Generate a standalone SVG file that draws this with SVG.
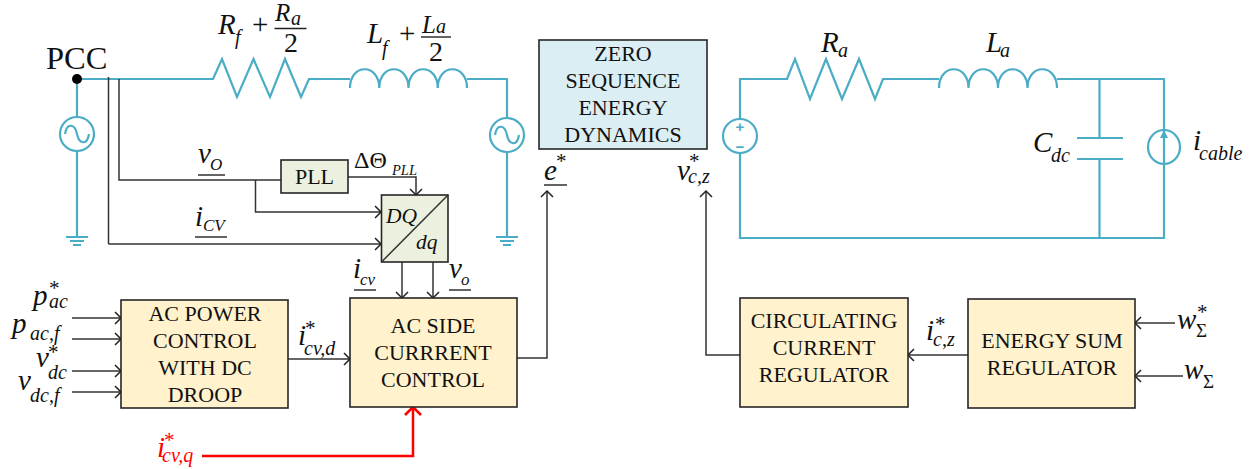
<svg xmlns="http://www.w3.org/2000/svg" width="1256" height="469" viewBox="0 0 1256 469">
<style>
text{font-family:"Liberation Serif","Times New Roman",serif;fill:#111}
.box{stroke:#262626;stroke-width:1.6}
.y{fill:#fff2cc}.g{fill:#ebf1de}.b{fill:#dbeef4}
.t{font-size:22px;text-anchor:middle}
.m{font-style:italic;font-size:29px}
.n{font-style:italic;font-size:25px}
.s{font-style:italic;font-size:20px}
.o{font-style:italic;font-size:17px}
.a{font-size:21px}
.w{fill:none;stroke:#4bacc6;stroke-width:2.2}
.c{fill:none;stroke:#333;stroke-width:1.5}
.ar{marker-end:url(#h)}
.u{stroke:#222;stroke-width:1.4}
.red{fill:#f00}
.pm{fill:#4bacc6;font-size:15px;font-weight:bold;text-anchor:middle;font-family:"Liberation Sans",Arial,sans-serif}
</style>
<defs>
<marker id="h" markerUnits="userSpaceOnUse" markerWidth="12" markerHeight="14" refX="10" refY="7" orient="auto"><path d="M4,1 L10,7 L4,13" fill="none" stroke="#222" stroke-width="1.5"/></marker>
<marker id="hr" markerUnits="userSpaceOnUse" markerWidth="18" markerHeight="20" refX="14" refY="10" orient="auto"><path d="M6,2 L14,10 L6,18" fill="none" stroke="#f00" stroke-width="2.6"/></marker>
</defs>

<g id="connectors">
<g id="power-ac">
<path class="w" d="M77,79 H213 L222,59 L237,97 L253.500,59 L270,97 L285,59 L301,97 L309,79 H350"/>
<path class="w" d="M350,88 C350,63 379.250,63 379.250,88 C379.250,63 408.500,63 408.500,88 C408.500,63 437.750,63 437.750,88 C437.750,63 467,63 467,88 M467,79 H507 V118"/>
<path class="w" d="M77,79 V117 M77,151 V237 M507,152 V237"/>
<path class="w" d="M66,237 H88 M70,241 H84 M73,245 H81 M496,237 H518 M500,241 H514 M503,245 H511"/>
</g>
<g id="power-dc">
<path class="w" d="M740,119 V79 H787 L795,59 L810,99 L826,59 L842,99 L859,59 L875,99 L883,79 H939"/>
<path class="w" d="M939,88 C939,63 968.500,63 968.500,88 C968.500,63 998,63 998,88 C998,63 1027.500,63 1027.500,88 C1027.500,63 1057,63 1057,88 M1057,79 H1164 V238 H740 V153"/>
<path class="w" d="M1099.500,79 V138 M1099.500,159 V238"/>
<path class="w" d="M1077,138 H1123 M1077,159 H1123"/>
</g>
<path class="c" d="M108.500,77 V244"/>
<path class="c ar" d="M108.500,244 H381"/>
<path class="c" d="M119,79 V180 H281"/>
<path class="c ar" d="M255.500,180 V212 H381"/>
<path class="c ar" d="M348,177 H416 V195"/>
<path class="c ar" d="M402,262 V298"/>
<path class="c ar" d="M433,262 V298"/>
<path class="c ar" d="M72,318 H121"/>
<path class="c ar" d="M72,339 H121"/>
<path class="c ar" d="M72,371 H121"/>
<path class="c ar" d="M72,392 H121"/>
<path class="c ar" d="M288,359 H350"/>
<path class="c ar" d="M517,358 H547 V191"/>
<path class="c ar" d="M740,355 H706 V191"/>
<path class="c ar" d="M968,355 H908"/>
<path class="c ar" d="M1175,323 H1135"/>
<path class="c ar" d="M1183,376 H1135"/>
<path d="M202,456 H413 V407" fill="none" stroke="#f00" stroke-width="2.500" marker-end="url(#hr)"/>
</g>

<g id="pcc">
<circle cx="77" cy="79" r="5" fill="#000"/>
<text x="46" y="69" font-size="32.500">PCC</text>
</g>
<g id="source-left">
<circle class="w" cx="77" cy="134" r="17"/>
<path class="w" d="M65,134 C67,122 75,124 77,134 C79,144 87,146 89,134"/>
</g>
<g id="source-right">
<circle class="w" cx="507" cy="135" r="17"/>
<path class="w" d="M495,135 C497,123 505,125 507,135 C509,145 517,147 519,135"/>
</g>
<g id="label-rf">
<text class="m" x="218" y="34">R</text><text class="s" x="235" y="44">f</text>
<text x="252" y="34" font-size="29">+</text>
<text class="n" x="275" y="21">R</text><text class="s" x="291" y="25">a</text>
<path class="u" d="M274.500,28.500 H306.500"/>
<text x="291" y="52" font-size="28" text-anchor="middle">2</text>
</g>
<g id="label-lf">
<text class="m" x="367" y="43">L</text><text class="s" x="382" y="55">f</text>
<text x="399" y="43" font-size="29">+</text>
<text class="n" x="422" y="33">L</text><text class="s" x="436" y="33">a</text>
<path class="u" d="M421,37 H451"/>
<text x="436" y="61" font-size="28" text-anchor="middle">2</text>
</g>

<g id="pll">
<rect class="box g" x="281" y="160" width="67" height="33"/>
<text class="t" x="314.500" y="184">PLL</text>
</g>
<g id="dq">
<rect class="box g" x="381.500" y="195" width="66.500" height="67"/>
<path class="c" d="M381.500,262 L448,195"/>
<text x="386" y="222.500" font-size="21.500" font-style="italic">DQ</text>
<text x="416" y="249" font-size="21.500" font-style="italic">dq</text>
</g>
<g id="label-vo1"><text class="m" x="198" y="163">v</text><text class="o" x="210" y="170">O</text><path class="u" d="M198,175 H225"/></g>
<g id="label-icv1"><text class="m" x="195" y="226">i</text><text class="o" x="203" y="231">CV</text><path class="u" d="M195,237 H227"/></g>
<g id="label-theta"><text x="354" y="168" font-size="24">ΔΘ</text><text x="392" y="175" font-size="14.500" font-style="italic">PLL</text></g>
<g id="label-icv2"><text class="m" x="353" y="278">i</text><text class="o" x="360" y="285">cv</text><path class="u" d="M354,290 H376"/></g>
<g id="label-vo2"><text class="m" x="449" y="278">v</text><text class="o" x="461" y="285">o</text><path class="u" d="M449,290 H471"/></g>

<g id="ac-power">
<rect class="box y" x="121" y="300" width="167" height="108"/>
<text class="t" x="205" y="321">AC POWER</text>
<text class="t" x="205" y="348">CONTROL</text>
<text class="t" x="205" y="375">WITH DC</text>
<text class="t" x="205" y="402">DROOP</text>
</g>
<g id="ac-side">
<rect class="box y" x="350" y="298" width="167" height="109"/>
<text class="t" x="433" y="333">AC SIDE</text>
<text class="t" x="433" y="360">CURRRENT</text>
<text class="t" x="433" y="387">CONTROL</text>
</g>
<g id="zero">
<rect class="box b" x="539" y="40" width="168" height="109"/>
<text class="t" x="623" y="61">ZERO</text>
<text class="t" x="623" y="88">SEQUENCE</text>
<text class="t" x="623" y="115">ENERGY</text>
<text class="t" x="623" y="142">DYNAMICS</text>
</g>
<g id="circulating">
<rect class="box y" x="740" y="298" width="168" height="109"/>
<text class="t" x="824" y="328">CIRCULATING</text>
<text class="t" x="824" y="355">CURRENT</text>
<text class="t" x="824" y="382">REGULATOR</text>
</g>
<g id="energy">
<rect class="box y" x="968" y="299" width="167" height="109"/>
<text class="t" x="1052" y="348">ENERGY SUM</text>
<text class="t" x="1052" y="375">REGULATOR</text>
</g>

<g id="label-pac"><text class="m" x="33" y="305">p</text><text class="a" x="49" y="295">*</text><text class="s" x="49" y="308">ac</text></g>
<g id="label-pacf"><text class="m" x="12" y="333">p</text><text class="s" x="30" y="340">ac,f</text></g>
<g id="label-vdc"><text class="m" x="36" y="367">v</text><text class="a" x="48" y="359">*</text><text class="s" x="48" y="379">dc</text></g>
<g id="label-vdcf"><text class="m" x="18" y="390">v</text><text class="s" x="30" y="402">dc,f</text></g>
<g id="label-icvd"><text class="m" x="298" y="345">i</text><text class="a" x="305" y="335">*</text><text class="s" x="304" y="355">cv,d</text></g>
<g id="label-icvq"><text class="m red" x="157" y="457">i</text><text class="a red" x="164" y="447">*</text><text class="s red" x="162" y="462">cv,q</text></g>
<g id="label-e"><text class="m" x="544" y="180">e</text><text class="a" x="556" y="168">*</text><path class="u" d="M544,185 H567"/></g>
<g id="label-vcz"><text class="m" x="677" y="180">v</text><text class="a" x="689" y="168">*</text><text class="s" x="688" y="183">c,z</text></g>
<g id="label-ra"><text class="m" x="821" y="52">R</text><text class="s" x="838" y="57">a</text></g>
<g id="label-la"><text class="m" x="986" y="52">L</text><text class="s" x="1000" y="57">a</text></g>
<g id="label-cdc"><text class="m" x="1033" y="152">C</text><text class="s" x="1051" y="162">dc</text></g>
<g id="dc-source">
<ellipse class="w" cx="740" cy="136" rx="17" ry="17"/>
<text class="pm" x="740" y="132">+</text>
<text class="pm" x="740" y="152">−</text>
</g>
<g id="current-source">
<ellipse class="w" cx="1164" cy="147" rx="16" ry="17"/>
<path d="M1164,130 L1160,138 H1168 Z" fill="#4bacc6"/>
</g>
<g id="label-icable"><text class="m" x="1193" y="150">i</text><text class="s" x="1199" y="160">cable</text></g>
<g id="label-icz"><text class="m" x="926" y="340">i</text><text class="a" x="935" y="331">*</text><text class="s" x="933" y="346">c,z</text></g>
<g id="label-wstar"><text class="m" x="1177" y="329">w</text><text class="a" x="1197" y="319">*</text><text x="1196" y="337" font-size="19">Σ</text></g>
<g id="label-w"><text class="m" x="1184" y="379">w</text><text x="1203" y="388" font-size="19">Σ</text></g>
</svg>
